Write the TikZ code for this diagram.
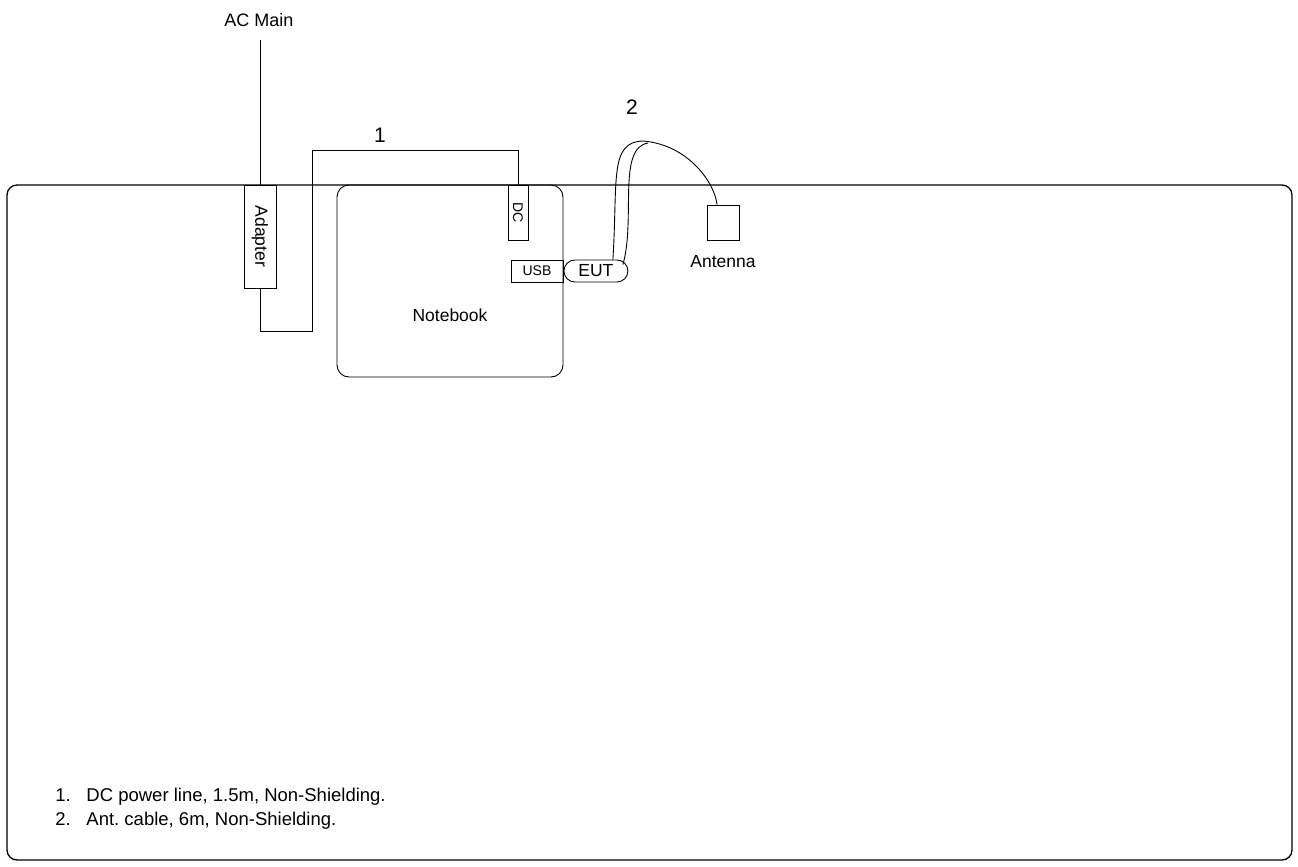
\documentclass[tikz,border=0pt]{standalone}
\usepackage{fontspec}
\setmainfont{Liberation Sans}
\usepackage{graphicx}
\usepackage{tikz}
\usetikzlibrary{positioning}
\frenchspacing

\begin{document}
\begin{tikzpicture}[x=1pt,y=-1pt,line width=0.9pt,
    every node/.style={font=\fontsize{17.5}{20}\selectfont,inner sep=0pt},
    part/.style={draw,rectangle},
    tiny/.style={font=\fontsize{14}{16}\selectfont},
    cablenum/.style={font=\fontsize{21}{24}\selectfont},
    note/.style={anchor=west,font=\fontsize{18.5}{22}\selectfont}]
  \useasboundingbox (0,0) rectangle (1298,867);
  \draw[line width=1.3pt,rounded corners=10pt] (7,185) rectangle (1292,860);
  % power side
  \node[font=\fontsize{18}{20}\selectfont] (acmain) at (259,20) {AC Main};
  \coordinate (acplug) at (260,40);
  \node[part,minimum width=32pt,minimum height=103pt] (adapter) at (260,236.5) {\rotatebox{-90}{Adapter}};
  \node[part,rounded corners=12pt,minimum width=226pt,minimum height=192pt] (notebook) at (450,281) {};
  \node (nbtext) at ([yshift=-34pt]notebook.center) {Notebook};
  \node[part,tiny,minimum width=20pt,minimum height=55pt] (dc) at (518,212.5) {\rotatebox{-90}{DC}};
  \node[part,tiny,minimum width=52pt,minimum height=22pt] (usb) at (537,271) {USB};
  \node[part,rounded corners=11pt,minimum width=64pt,minimum height=22pt,
        font=\fontsize{17.5}{20}\selectfont,right=0pt of usb] (eut) {EUT};
  \node[part,minimum width=32pt,minimum height=35pt] (ant) at (723,222.5) {};
  \node[below=15pt of ant] (antlabel) {Antenna};
  \coordinate (c1a) at (312,331);
  \coordinate (c1b) at (312,150);
  \draw (acplug) -- (adapter.north);
  \draw (adapter.south) |- (c1a) -- (c1b) -| (dc.north);
  \node[cablenum] (lbl1) at (380,135) {1};
  % antenna cable
  \coordinate (c2top) at (643,141);
  \coordinate (c2join) at (648,143);
  \draw ([xshift=17pt]eut.north) .. controls +(5,-80) and +(-34,1) .. (c2top)
        .. controls +(47,4) and +(-2,-20) .. ([xshift=-6pt]ant.north);
  \draw ([xshift=27pt,yshift=-5pt]eut.north) .. controls +(13,-45) and +(-31,5) .. (c2join);
  \node[cablenum] (lbl2) at (632,107) {2};
  % notes
  \node[note] (note1) at (55,797) {\makebox[31pt][l]{1.}DC power line, 1.5m, Non-Shielding.};
  \node[note] (note2) at (55,821) {\makebox[31pt][l]{2.}Ant. cable, 6m, Non-Shielding.};
\end{tikzpicture}
\end{document}
